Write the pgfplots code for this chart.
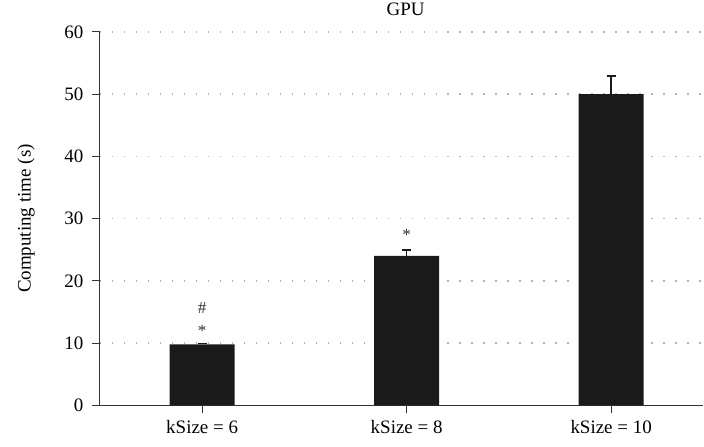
\documentclass[border=0pt]{standalone}
\usepackage{pgfplots}
\pgfplotsset{compat=1.18}
\usepackage{pgfplotstable}
\usepackage{fontspec}
\setmainfont{Liberation Serif}
\definecolor{barcol}{HTML}{1A1A1A}
\definecolor{axcol}{HTML}{333333}
\pgfplotstableread{
x y err
0 9.8 0.15
1 24.0 1.0
2 50.0 2.9
}\bars
\pgfplotstableread{
x y lab
0 12.0 *
0 15.7 \#
1 27.4 *
}\marks
\begin{document}
\begin{tikzpicture}
\begin{axis}[
  at={(0,0)}, anchor=south west,
  scale only axis,
  width=604bp, height=374bp,
  xmin=-0.5, xmax=2.45,
  ymin=0, ymax=60,
  ytick={0,10,...,60},
  xtick={0,1,2},
  xticklabels={kSize = 6, kSize = 8, kSize = 10},
  axis x line*=bottom, axis y line*=left,
  axis line style={axcol, line width=1.1bp, -},
  tick align=outside,
  major tick length=8bp,
  tick style={axcol, line width=1.1bp},
  ymajorgrids,
  grid style={gray!60, line width=1.6bp, dash pattern=on 1.6bp off 10.4bp},
  font=\fontsize{19bp}{21bp}\selectfont,
  /pgf/number format/assume math mode=true,
  yticklabel style={xshift=-5bp},
  xticklabel style={yshift=-3bp},
  ylabel={Computing time (s)},
  ylabel style={at={(rel axis cs:0,0.5)}, anchor=center, yshift=74bp},
  title={GPU},
  title style={at={(rel axis cs:0.5,1)}, anchor=base, xshift=4bp, yshift=10bp},
  clip=false,
]
\addplot[ybar, bar width=65bp, fill=barcol, draw=none,
  error bars/.cd, y dir=plus, y explicit,
  error bar style={barcol, line width=1.6bp},
  error mark options={rotate=90, mark size=4.5bp, line width=1.6bp, barcol}]
  table[x=x, y=y, y error=err] {\bars};
\addplot[draw=none, mark=none, nodes near coords, point meta=explicit symbolic,
  nodes near coords align={center},
  every node near coord/.append style={font=\fontsize{17bp}{19bp}\selectfont, text=axcol}]
  table[x=x, y=y, meta=lab] {\marks};
\end{axis}
\path[use as bounding box] (-100bp,-41bp) rectangle (604bp,404bp);
\end{tikzpicture}
\end{document}
